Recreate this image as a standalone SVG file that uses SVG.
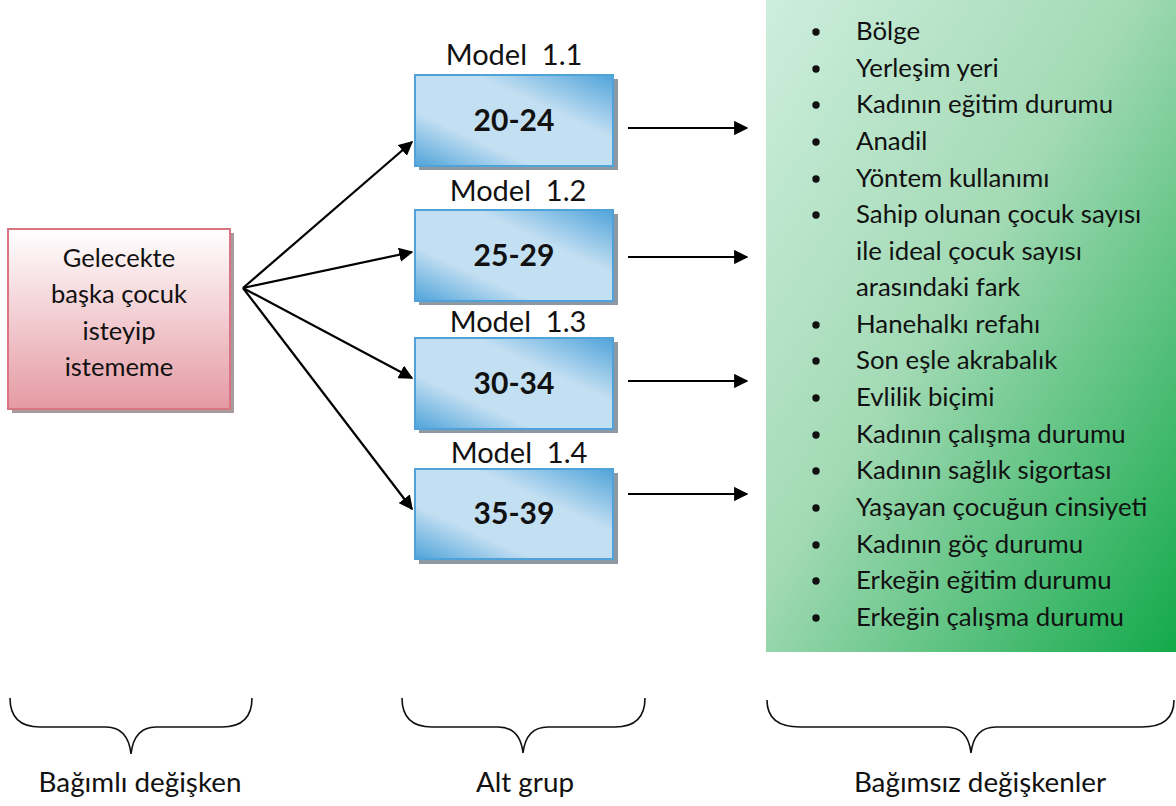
<svg xmlns="http://www.w3.org/2000/svg" width="1176" height="806" viewBox="0 0 1176 806">
<defs>
<linearGradient id="gPink" x1="0" y1="0" x2="0" y2="1">
<stop offset="0" stop-color="#ffffff"/>
<stop offset="1" stop-color="#e59aa3"/>
</linearGradient>
<linearGradient id="gBlue" x1="0" y1="1" x2="1" y2="0">
<stop offset="0" stop-color="#4fa3d9"/>
<stop offset="0.3" stop-color="#c3dff2"/>
<stop offset="0.65" stop-color="#c3dff2"/>
<stop offset="1" stop-color="#4fa3d9"/>
</linearGradient>
<linearGradient id="gGreen" x1="0" y1="0" x2="1" y2="1">
<stop offset="0" stop-color="#cdeedd"/>
<stop offset="0.45" stop-color="#a3dab5"/>
<stop offset="1" stop-color="#13a94a"/>
</linearGradient>
<marker id="ah" viewBox="0 0 10 10" refX="9" refY="5" markerWidth="6.5" markerHeight="6.5" orient="auto" markerUnits="strokeWidth">
<path d="M0,0 L10,5 L0,10 z" fill="#000"/>
</marker>
</defs>
<style>
text{font-family:"Lato","Open Sans","Noto Sans",sans-serif;fill:#111;font-weight:400;}
.lbl{font-size:25.5px;text-anchor:middle;}
.num{font-size:30px;font-weight:bold;text-anchor:middle;}
.model{font-size:29px;text-anchor:middle;white-space:pre;}
.item{font-size:25.8px;}
.cap{font-size:27.8px;text-anchor:middle;}
.shadow{fill:#8d98a3;}
.blue{fill:url(#gBlue);stroke:#4fa3d9;stroke-width:2;}
.conn{stroke:#000;stroke-width:2.2;fill:none;marker-end:url(#ah);}
.brace{stroke:#111;stroke-width:1.6;fill:none;}
</style>

<rect x="766" y="0" width="410" height="652" fill="url(#gGreen)"/>

<g id="dep">
<rect x="12" y="233" width="222" height="180" fill="#a99a9e"/>
<rect x="8" y="229" width="222" height="180" fill="url(#gPink)" stroke="#d97483" stroke-width="2"/>
<text class="lbl" x="119" y="267">Gelecekte</text>
<text class="lbl" x="119" y="303">başka çocuk</text>
<text class="lbl" x="119" y="340">isteyip</text>
<text class="lbl" x="119" y="376">istememe</text>
</g>

<g id="m1">
<text class="model" x="514" y="65">Model  1.1</text>
<rect class="shadow" x="419" y="79" width="199" height="91"/>
<rect class="blue" x="415" y="75" width="198" height="91"/>
<text class="num" x="514" y="131">20-24</text>
</g>
<g id="m2">
<text class="model" x="518" y="201">Model  1.2</text>
<rect class="shadow" x="419" y="214" width="199" height="91"/>
<rect class="blue" x="415" y="210" width="198" height="91"/>
<text class="num" x="514" y="266">25-29</text>
</g>
<g id="m3">
<text class="model" x="518" y="332">Model  1.3</text>
<rect class="shadow" x="419" y="342" width="199" height="91"/>
<rect class="blue" x="415" y="338" width="198" height="91"/>
<text class="num" x="514" y="394">30-34</text>
</g>
<g id="m4">
<text class="model" x="519" y="463">Model  1.4</text>
<rect class="shadow" x="419" y="473" width="199" height="91"/>
<rect class="blue" x="415" y="469" width="198" height="90"/>
<text class="num" x="514" y="524">35-39</text>
</g>

<g id="indep">
<g fill="#111">
<circle cx="816" cy="32" r="3.7"/>
<circle cx="816" cy="69" r="3.7"/>
<circle cx="816" cy="105" r="3.7"/>
<circle cx="816" cy="142" r="3.7"/>
<circle cx="816" cy="179" r="3.7"/>
<circle cx="816" cy="215" r="3.7"/>
<circle cx="816" cy="325" r="3.7"/>
<circle cx="816" cy="361" r="3.7"/>
<circle cx="816" cy="398" r="3.7"/>
<circle cx="816" cy="435" r="3.7"/>
<circle cx="816" cy="471" r="3.7"/>
<circle cx="816" cy="508" r="3.7"/>
<circle cx="816" cy="545" r="3.7"/>
<circle cx="816" cy="581" r="3.7"/>
<circle cx="816" cy="618" r="3.7"/>
</g>
<text class="item" x="856" y="40">Bölge</text>
<text class="item" x="856" y="77">Yerleşim yeri</text>
<text class="item" x="856" y="113">Kadının eğitim durumu</text>
<text class="item" x="856" y="150">Anadil</text>
<text class="item" x="856" y="187">Yöntem kullanımı</text>
<text class="item" x="856" y="223">Sahip olunan çocuk sayısı</text>
<text class="item" x="856" y="260">ile ideal çocuk sayısı</text>
<text class="item" x="856" y="296">arasındaki fark</text>
<text class="item" x="856" y="333">Hanehalkı refahı</text>
<text class="item" x="856" y="369">Son eşle akrabalık</text>
<text class="item" x="856" y="406">Evlilik biçimi</text>
<text class="item" x="856" y="443">Kadının çalışma durumu</text>
<text class="item" x="856" y="479">Kadının sağlık sigortası</text>
<text class="item" x="856" y="516">Yaşayan çocuğun cinsiyeti</text>
<text class="item" x="856" y="553">Kadının göç durumu</text>
<text class="item" x="856" y="589">Erkeğin eğitim durumu</text>
<text class="item" x="856" y="626">Erkeğin çalışma durumu</text>
</g>

<g id="connectors">
<line class="conn" x1="243" y1="288" x2="412" y2="142"/>
<line class="conn" x1="243" y1="288" x2="412" y2="252"/>
<line class="conn" x1="243" y1="288" x2="412" y2="378"/>
<line class="conn" x1="243" y1="288" x2="412" y2="509"/>
<line class="conn" x1="628" y1="128" x2="747" y2="128"/>
<line class="conn" x1="628" y1="257" x2="747" y2="257"/>
<line class="conn" x1="628" y1="381" x2="747" y2="381"/>
<line class="conn" x1="628" y1="494" x2="747" y2="494"/>
</g>

<g id="braces">
<path class="brace" d="M10,698 Q10,727 40,727 L106,727 Q128,727 131,754 Q134,727 156,727 L222,727 Q252,727 252,698"/>
<path class="brace" d="M402,698 Q402,727 432,727 L498,727 Q520,727 523,753 Q526,727 548,727 L615,727 Q645,727 645,698"/>
<path class="brace" d="M767,700 Q767,727 800,727 L946,727 Q968,727 971,753 Q974,727 996,727 L1142,727 Q1174,727 1174,700"/>
<text class="cap" x="140" y="792">Bağımlı değişken</text>
<text class="cap" x="525" y="792">Alt grup</text>
<text class="cap" x="980" y="792">Bağımsız değişkenler</text>
</g>
</svg>
